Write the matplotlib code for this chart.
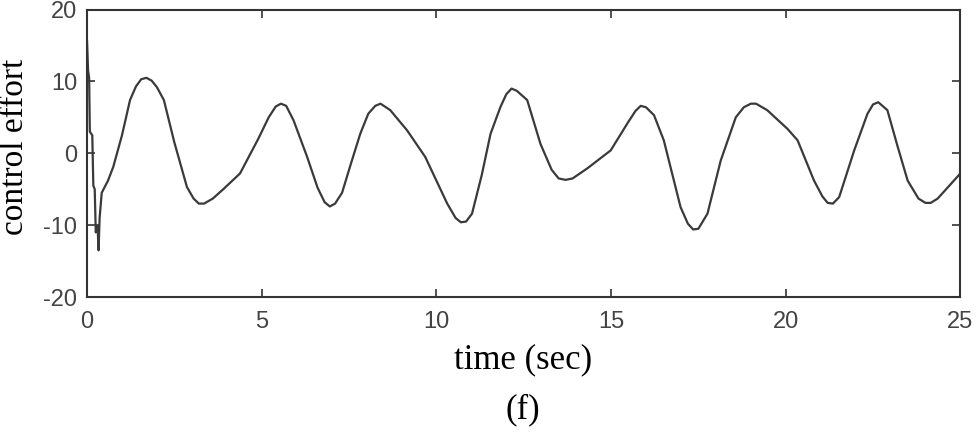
import numpy as np
import matplotlib
matplotlib.use("Agg")
import matplotlib.pyplot as plt

plt.rcParams["axes.unicode_minus"] = False

# control effort
t = [0.0, 0.03, 0.06, 0.08, 0.15, 0.18, 0.22, 0.25, 0.30, 0.33, 0.36, 0.42,
     0.6, 0.75, 1.0, 1.23, 1.4, 1.55, 1.7, 1.85, 2.0, 2.2, 2.5, 2.86, 3.05,
     3.2, 3.35, 3.6, 3.9, 4.38, 4.9, 5.2, 5.4, 5.55, 5.7, 5.91, 6.3, 6.6,
     6.8, 6.95, 7.1, 7.3, 7.55, 7.82, 8.05, 8.25, 8.4, 8.68, 9.16, 9.68,
     10.31, 10.55, 10.7, 10.85, 11.02, 11.3, 11.55, 11.83, 12.0, 12.15,
     12.3, 12.6, 12.98, 13.3, 13.5, 13.7, 13.9, 14.32, 14.99, 15.46, 15.7,
     15.85, 16.0, 16.23, 16.51, 16.99, 17.2, 17.35, 17.5, 17.76, 18.14,
     18.57, 18.8, 19.0, 19.15, 19.47, 20.05, 20.34, 20.81, 21.05, 21.2,
     21.35, 21.53, 21.96, 22.34, 22.5, 22.65, 22.91, 23.2, 23.49, 23.8,
     24.0, 24.15, 24.35, 25.0]
u = [15.6, 11.5, 10.5, 3.0, 2.5, -4.5, -5.0, -11.0, -10.0, -13.5, -9.0, -5.5,
     -3.8, -1.9, 2.5, 7.4, 9.3, 10.3, 10.5, 10.1, 9.2, 7.4, 1.5, -4.7, -6.3,
     -7.0, -7.0, -6.3, -5.0, -2.8, 2.0, 5.0, 6.5, 6.9, 6.6, 4.6, -0.5, -4.8,
     -6.8, -7.4, -7.0, -5.5, -1.5, 2.7, 5.5, 6.6, 6.9, 6.0, 3.2, -0.5,
     -7.0, -9.0, -9.6, -9.5, -8.4, -3.0, 2.7, 6.4, 8.2, 9.0, 8.7, 7.4, 1.3,
     -2.3, -3.5, -3.7, -3.5, -2.1, 0.4, 4.1, 5.9, 6.6, 6.4, 5.3, 1.8, -7.5,
     -9.8, -10.6, -10.5, -8.4, -1.0, 5.0, 6.4, 6.9, 6.9, 6.0, 3.4, 1.8,
     -3.8, -6.0, -6.9, -7.0, -6.1, 0.4, 5.5, 6.8, 7.1, 6.0, 1.0, -3.8, -6.3,
     -6.9, -6.9, -6.3, -2.8]

xticks = [0, 5, 10, 15, 20, 25]
yticks = [-20, -10, 0, 10, 20]

fig = plt.figure(figsize=(9.78, 4.33), dpi=100)
ax = fig.add_axes([0.089, 0.314, 0.893, 0.664])
ax.plot(t, u, color="#3a3a3a", lw=1.6)
ax.set_xlim(0, 25)
ax.set_ylim(-20, 20)
ax.set_xticks(xticks)
ax.set_yticks(yticks)
ax.tick_params(direction="in", length=6, width=1.2, color="#333333",
               top=True, right=True, labelsize=17, labelcolor="#444444")
ax.tick_params(axis="x", pad=10)
ax.tick_params(axis="y", pad=7)
for lab in ax.get_xticklabels() + ax.get_yticklabels():
    lab.set_family("Liberation Sans")
for s in ax.spines.values():
    s.set_linewidth(1.5)
    s.set_color("#333333")

fig.text(0.535, 0.169, "time (sec)", family="Liberation Serif", fontsize=25,
         ha="center", va="center")
fig.text(0.535, 0.053, "(f)", family="Liberation Serif", fontsize=25,
         ha="center", va="center")
fig.text(0.015, 0.66, "control effort", family="Liberation Serif", fontsize=24,
         rotation=90, ha="center", va="center")

fig.savefig("out.png", dpi=100)
